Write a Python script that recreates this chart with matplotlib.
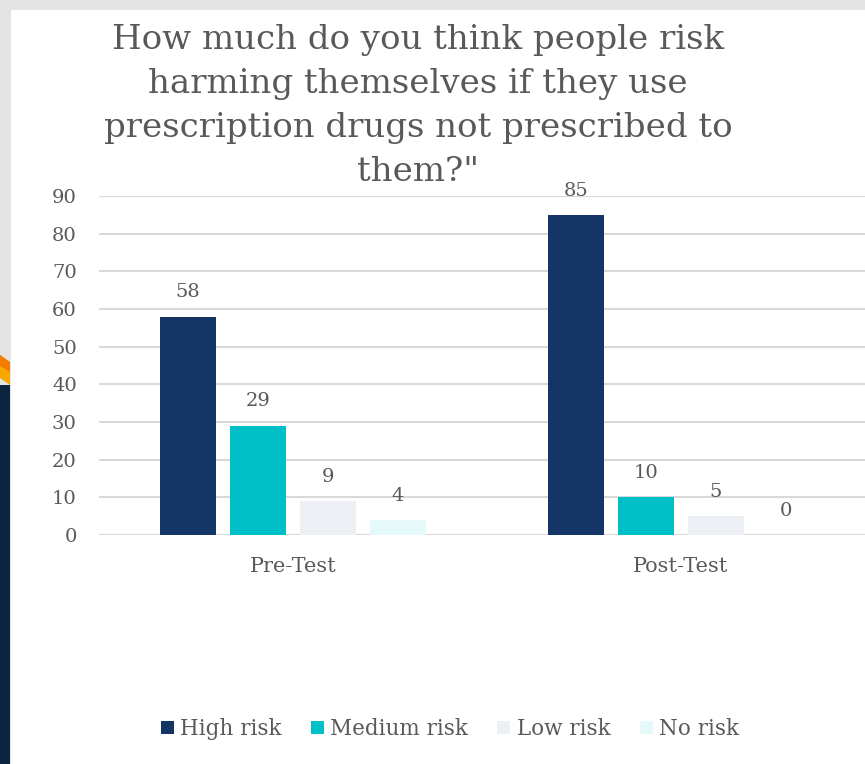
import matplotlib.pyplot as plt
import numpy as np
from matplotlib.patches import Rectangle, Polygon

# Данные
groups = ['Pre-Test', 'Post-Test']
series = ['High risk', 'Medium risk', 'Low risk', 'No risk']
high_risk = [58, 85]
medium_risk = [29, 10]
low_risk = [9, 5]
no_risk = [4, 0]
colors = ['#143666', '#00c0c7', '#eceff4', '#e6f9fa']

title_lines = ['How much do you think people risk', 'harming themselves if they use',
               'prescription drugs not prescribed to', 'them?"']

plt.rcParams['font.family'] = ['DejaVu Serif']
gray = '#595959'

fig = plt.figure(figsize=(8.65, 7.64), dpi=100)
fig.patch.set_facecolor('white')

# фон слайда: серая рамка и цветная полоса слева
fig.patches.append(Rectangle((0, 1 - 10 / 764), 1, 10 / 764, transform=fig.transFigure,
                             facecolor='#e4e4e4', edgecolor='none', zorder=-5))
fig.patches.append(Rectangle((0, 0), 11 / 865, 1, transform=fig.transFigure,
                             facecolor='#e4e4e4', edgecolor='none', zorder=-5))
fig.patches.append(Polygon([(0, 1 - 355 / 764), (10 / 865, 1 - 362 / 764), (10 / 865, 1 - 385 / 764),
                            (0, 1 - 378 / 764)], closed=True, transform=fig.transFigure,
                           facecolor='#f7a800', edgecolor='none', zorder=-4))
fig.patches.append(Polygon([(0, 1 - 355 / 764), (10 / 865, 1 - 362 / 764), (10 / 865, 1 - 372 / 764),
                            (0, 1 - 366 / 764)], closed=True, transform=fig.transFigure,
                           facecolor='#f47c00', edgecolor='none', zorder=-4))
fig.patches.append(Rectangle((0, 0), 10 / 865, 1 - 385 / 764, transform=fig.transFigure,
                             facecolor='#0b2440', edgecolor='none', zorder=-4))

ax = fig.add_axes([99 / 865, 1 - 535 / 764, (875 - 99) / 865, 339 / 764])
ax.set_facecolor('none')

x = np.arange(len(groups))
width = 0.142
step = 0.1804
for i, (name, vals) in enumerate(zip(series, [high_risk, medium_risk, low_risk, no_risk])):
    pos = x + (i - 1.5) * step
    bars = ax.bar(pos, vals, width, color=colors[i], label=name, zorder=3)
    for xp, v in zip(pos, vals):
        ax.annotate(str(v), (xp, v), xytext=(0, 11), textcoords='offset points',
                    ha='center', va='bottom', fontsize=14, color=gray)

ax.set_xlim(-0.5, 1.5)
ax.set_ylim(0, 90)
ax.set_yticks(range(0, 91, 10))
ax.yaxis.grid(True, color='#d9d9d9', linewidth=1.5, zorder=0)
ax.set_axisbelow(True)
for s in ax.spines.values():
    s.set_visible(False)
ax.tick_params(axis='y', length=0, labelsize=14, colors=gray, pad=16)
ax.tick_params(axis='x', length=0, labelsize=15, colors=gray, pad=16)
ax.set_xticks(x)
ax.set_xticklabels(groups)

# заголовок построчно
for k, line in enumerate(title_lines):
    fig.text(418 / 865, 1 - (40 + 44 * k) / 764, line, ha='center', va='center',
             fontsize=24.5, color=gray)

fig.legend(loc='center', bbox_to_anchor=(450 / 865, 1 - 729 / 764), ncol=4, frameon=False,
           fontsize=15.5, handlelength=0.6, handleheight=0.6, handletextpad=0.3,
           columnspacing=1.35, labelcolor=gray)

fig.savefig('out.png', dpi=100)
